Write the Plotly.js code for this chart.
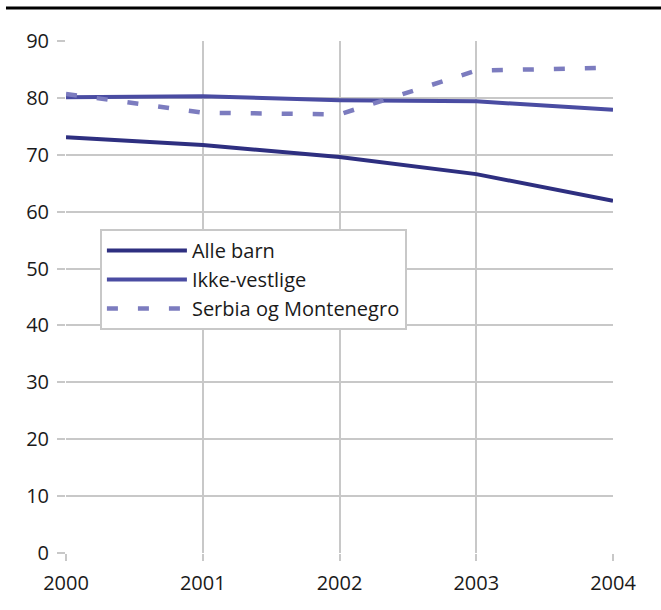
<!DOCTYPE html>
<html>
<head>
<meta charset="utf-8">
<script src="https://cdn.plot.ly/plotly-3.0.1.min.js"></script>
<style>html,body{margin:0;padding:0;background:#fff;}#chart{width:661px;height:610px;}</style>
</head>
<body>
<div id="chart"></div>
<script>
const years = [2000, 2001, 2002, 2003, 2004];
const alleBarn = [73.1, 71.7, 69.6, 66.6, 61.9];
const ikkeVestlige = [80.1, 80.3, 79.6, 79.4, 77.9];
const serbiaMontenegro = [80.7, 77.4, 77.1, 84.8, 85.3];
const seriesNames = ["Alle barn", "Ikke-vestlige", "Serbia og Montenegro"];
const yTicks = [0, 10, 20, 30, 40, 50, 60, 70, 80, 90];

const tickFont = {family: "Open Sans, Noto Sans, sans-serif", size: 20, color: "#1a1a1a"};
const legendFont = {family: "Open Sans, Noto Sans, sans-serif", size: 20, color: "#1a1a1a"};

const traces = [
  {x: years, y: alleBarn, name: seriesNames[0], mode: "lines", line: {color: "#2e2f80", width: 4}},
  {x: years, y: ikkeVestlige, name: seriesNames[1], mode: "lines", line: {color: "#4a4ca2", width: 4}},
  {x: years, y: serbiaMontenegro, name: seriesNames[2], mode: "lines", line: {color: "#7c7cbf", width: 4.5, dash: "11px,20px"}}
];

const layout = {
  width: 661, height: 610,
  margin: {l: 66, r: 48, t: 41, b: 57},
  paper_bgcolor: "#fff", plot_bgcolor: "#fff",
  font: tickFont,
  showlegend: true,
  legend: {
    x: 0.062, y: 0.633, xanchor: "left", yanchor: "top",
    bordercolor: "#c8c8c8", borderwidth: 2, bgcolor: "#fff",
    font: legendFont, itemwidth: 80, tracegroupgap: 0
  },
  xaxis: {
    type: "linear", range: [2000, 2004], tickvals: years, ticktext: years.map(String),
    showgrid: true, gridcolor: "#c8c8c8", gridwidth: 2,
    ticks: "outside", ticklen: 7, tickcolor: "#c8c8c8", tickwidth: 2,
    ticklabelstandoff: 5,
    zeroline: false, showline: false, fixedrange: true, tickfont: tickFont
  },
  yaxis: {
    range: [0, 90], tickvals: yTicks,
    showgrid: true, gridcolor: "#c8c8c8", gridwidth: 2,
    ticks: "outside", ticklen: 8, tickcolor: "#c8c8c8", tickwidth: 2,
    ticklabelstandoff: 4,
    zeroline: false, showline: false, fixedrange: true, tickfont: tickFont
  },
  shapes: [
    {type: "line", xref: "paper", yref: "paper", x0: -0.1097, x1: 1.0878, y0: 1.0645, y1: 1.0645,
     line: {color: "#000", width: 3}}
  ]
};

Plotly.newPlot("chart", traces, layout, {displayModeBar: false, staticPlot: true});
</script>
</body>
</html>
